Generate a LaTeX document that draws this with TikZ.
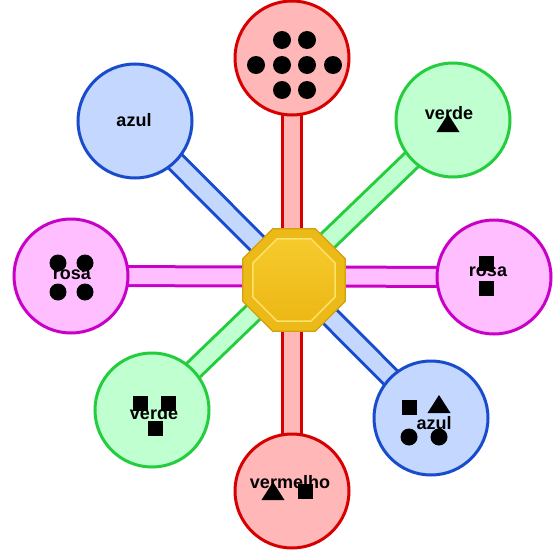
\documentclass[tikz,border=0pt]{standalone}
\usepackage{fontspec}
\setmainfont{Liberation Sans}
\usetikzlibrary{shapes.geometric,backgrounds}

\definecolor{redline}{RGB}{215,0,0}
\definecolor{redfill}{RGB}{255,183,183}
\definecolor{grnline}{RGB}{35,205,60}
\definecolor{grnfill}{RGB}{192,255,208}
\definecolor{bluline}{RGB}{25,75,205}
\definecolor{blufill}{RGB}{195,215,255}
\definecolor{pnkline}{RGB}{200,0,200}
\definecolor{pnkfill}{RGB}{255,190,255}
\definecolor{golddark}{RGB}{212,160,10}
\definecolor{goldfill}{RGB}{236,186,24}
\definecolor{goldlight}{RGB}{255,226,105}
\definecolor{goldtop}{RGB}{246,202,45}
\definecolor{goldbot}{RGB}{236,184,20}

\begin{document}
\begin{tikzpicture}[
  x=1pt, y=-1pt,
  ball/.style={circle, minimum size=114pt, inner sep=0pt, line width=3pt,
    draw=#1line, fill=#1fill},
  hubbox/.style={regular polygon, regular polygon sides=8, minimum size=111pt,
    inner sep=0pt, fill=goldfill, draw=golddark, line width=1.2pt},
  hubinner/.style={regular polygon, regular polygon sides=8, minimum size=89pt,
    inner sep=0pt, top color=goldtop, bottom color=goldbot, draw=goldlight,
    line width=1.5pt},
  tag/.style={font=\bfseries\fontsize{18}{18}\selectfont, inner sep=0pt},
  bar/.style={line width=3pt, draw=#1line, double=#1fill, double distance=16pt}
]
  \useasboundingbox (0,0) rectangle (557,549);

  % outer circles
  \node[ball=red] (top) at (292,58) {};
  \node[ball=grn] (topright) at (453,120) {};
  \node[ball=pnk] (right) at (494,277) {};
  \node[ball=blu] (botright) at (431,418) {};
  \node[ball=red] (bottom) at (292,491) {};
  \node[ball=grn] (botleft) at (152,410) {};
  \node[ball=pnk] (left) at (71,276) {};
  \node[ball=blu] (topleft) at (135,121) {};

  % hub
  \node[hubbox] (hub) at (294,280) {};
  \node[hubinner] (hubin) at (hub.center) {};

  % spokes
  \begin{scope}[on background layer]
    \draw[bar=red] (top.center) -- (bottom.center);
    \draw[bar=grn] (topright.center) -- (botleft.center);
    \draw[bar=pnk] (left.center) -- (right.center);
    \draw[bar=blu] (topleft.center) -- (botright.center);
  \end{scope}

  % labels
  \node[tag] (t1) at (449,113) {verde};
  \node[tag] (t2) at (488,272) {rosa};
  \node[tag] (t3) at (434,423) {azul};
  \node[tag] (t4) at (290,482) {vermelho};
  \node[tag] (t5) at (154,413) {verde};
  \node[tag] (t6) at (72,275) {rosa};
  \node[tag] (t7) at (134,120) {azul};

  % glyphs
  \foreach \x/\y in {282/40, 307/40, 256/65, 282/65, 307/65, 333/65, 282/90, 307/90}
    \fill (\x,\y) circle (9);
  \foreach \x/\y in {58/263, 85/263, 58/292, 85/292, 409/437, 439/437}
    \fill (\x,\y) circle (8.5);
  \foreach \x/\y in {486/263, 486/288, 140/403, 168/403, 155/428, 409/407, 305/491}
    \fill (\x-7.5,\y-7.5) rectangle (\x+7.5,\y+7.5);
  \foreach \x/\y in {448/123, 439/404, 273/491}
    \fill (\x-11.5,\y+9) -- (\x,\y-9) -- (\x+11.5,\y+9) -- cycle;
\end{tikzpicture}
\end{document}
